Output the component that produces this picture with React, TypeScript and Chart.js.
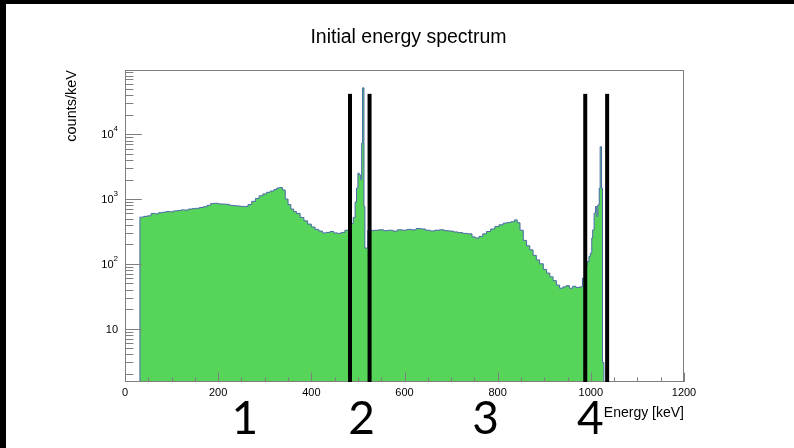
import React, { useEffect, useRef } from 'react';
import { Chart, registerables } from 'chart.js';

Chart.register(...registerables);

// Histogram bin left edges (keV) and counts/keV
const energies = [
  24, 32, 40, 48, 56, 64, 72, 80, 88, 96, 104, 112, 120, 128, 136, 144, 152, 160, 168, 176,
  184, 192, 200, 208, 216, 224, 232, 240, 248, 256, 264, 272, 280, 288, 296, 304, 312, 320,
  326, 332, 338, 344, 350, 356, 362, 368, 376, 384, 392, 400, 408, 416, 424, 432, 440, 448,
  456, 464, 472, 480, 486, 490, 494, 497, 500, 503, 506, 508, 510, 513, 515, 521, 527, 535,
  545, 555, 565, 575, 585, 595, 605, 615, 625, 635, 645, 655, 665, 675, 685, 695, 705, 715,
  725, 735, 745, 752, 760, 768, 776, 785, 794, 803, 812, 820, 828, 836, 842, 848, 855, 862,
  869, 876, 883, 890, 898, 905, 912, 919, 926, 933, 940, 947, 954, 961, 968, 975, 982, 988,
  992, 996, 999, 1002, 1004, 1007, 1010, 1013, 1015, 1018, 1020, 1023, 1025, 1028,
];
const counts = [
  1, 525, 540, 550, 600, 590, 615, 625, 640, 635, 655, 665, 680, 675, 700, 710, 720, 740, 760, 800,
  850, 860, 840, 835, 830, 800, 790, 780, 770, 765, 820, 920, 1020, 1120, 1200, 1270, 1330, 1400,
  1480, 1500, 1380, 1000, 820, 700, 640, 600, 520, 460, 410, 370, 340, 320, 300, 305, 315, 300,
  295, 305, 330, 350, 420, 520, 900, 1470, 2500, 2350, 1980, 7300, 52000, 770, 175, 330, 325, 330,
  335, 325, 330, 320, 335, 330, 340, 335, 350, 345, 330, 322, 330, 335, 325, 320, 310, 303,
  295, 290, 260, 250, 265, 290, 315, 345, 376, 400, 425, 432, 445, 476, 430, 330, 230, 190,
  164, 135, 115, 100, 82, 72, 63, 55, 47, 42, 44, 46, 42, 45, 43, 44, 60, 90,
  108, 130, 146, 250, 334, 605, 766, 537, 812, 1470, 6400, 1470, 3, 1,
];

const chartTitle = 'Initial energy spectrum';
const xTitle = 'Energy [keV]';
const yTitle = 'counts/keV';

const xMajorTicks = [0, 200, 400, 600, 800, 1000, 1200];
const xMinorTicks = [
  50, 100, 150, 250, 300, 350, 450, 500, 550, 650, 700, 750, 850, 900, 950, 1050, 1100, 1150,
];
const yMajorTicks = [10, 100, 1000, 10000];
const yTickBases = ['10', '10', '10', '10'];
const yTickExps = ['', '2', '3', '4'];
const yMinorTicks = [
  2, 3, 4, 5, 6, 7, 8, 9, 20, 30, 40, 50, 60, 70, 80, 90, 200, 300, 400, 500, 600, 700, 800, 900,
  2000, 3000, 4000, 5000, 6000, 7000, 8000, 9000, 20000, 30000, 40000, 50000, 60000, 70000, 80000, 90000,
];

// Hand-drawn region markers (keV) and their top (counts/keV)
const markerEnergies = [483, 525, 988, 1035];
const markerTop = 42000;
const regionLabels = ['1', '2', '3', '4'];
const regionLabelEnergies = [257, 508, 774, 999];

const FONT = '"Liberation Sans", Arial, Helvetica, sans-serif';

const rootStylePlugin = {
  id: 'rootStyle',
  afterDatasetsDraw(chart: any) {
    const { ctx, chartArea: a, scales } = chart;
    const x = scales.x;
    const y = scales.y;
    const W = a.right - a.left;
    const H = a.bottom - a.top;
    ctx.save();

    // frame
    ctx.strokeStyle = '#7f7f7f';
    ctx.lineWidth = 1;
    ctx.strokeRect(a.left + 0.5, a.top + 0.5, W - 1, H - 1);

    // x ticks (inside)
    const xMaj = 0.03 * H;
    const xMin = 0.015 * H;
    ctx.beginPath();
    xMajorTicks.forEach((v) => {
      const px = Math.round(x.getPixelForValue(v)) + 0.5;
      ctx.moveTo(px, a.bottom);
      ctx.lineTo(px, a.bottom - xMaj);
    });
    xMinorTicks.forEach((v) => {
      const px = Math.round(x.getPixelForValue(v)) + 0.5;
      ctx.moveTo(px, a.bottom);
      ctx.lineTo(px, a.bottom - xMin);
    });
    // y ticks (inside)
    const yMaj = 0.03 * W;
    const yMin = 0.015 * W;
    yMajorTicks.forEach((v) => {
      const py = Math.round(y.getPixelForValue(v)) + 0.5;
      ctx.moveTo(a.left, py);
      ctx.lineTo(a.left + yMaj, py);
    });
    yMinorTicks.forEach((v) => {
      const py = Math.round(y.getPixelForValue(v)) + 0.5;
      if (py < a.top || py > a.bottom) return;
      ctx.moveTo(a.left, py);
      ctx.lineTo(a.left + yMin, py);
    });
    ctx.stroke();

    // x tick labels
    ctx.fillStyle = '#000';
    ctx.font = `11px ${FONT}`;
    ctx.textAlign = 'center';
    ctx.textBaseline = 'middle';
    xMajorTicks.forEach((v) => {
      ctx.fillText(String(v), x.getPixelForValue(v), a.bottom + 11);
    });

    // y tick labels with superscript exponents
    const rightEdge = a.left - 7;
    yMajorTicks.forEach((v, i) => {
      const py = y.getPixelForValue(v);
      ctx.font = `8px ${FONT}`;
      const expW = yTickExps[i] ? ctx.measureText(yTickExps[i]).width : 0;
      ctx.textAlign = 'right';
      ctx.textBaseline = 'middle';
      ctx.font = `11px ${FONT}`;
      ctx.fillText(yTickBases[i], rightEdge - expW, py + 1);
      if (yTickExps[i]) {
        ctx.font = `8px ${FONT}`;
        ctx.textAlign = 'left';
        ctx.fillText(yTickExps[i], rightEdge - expW, py - 5);
      }
    });

    // axis titles
    ctx.font = `14px ${FONT}`;
    ctx.textAlign = 'right';
    ctx.textBaseline = 'middle';
    ctx.fillText(xTitle, a.right, a.bottom + 31);

    ctx.save();
    ctx.translate(a.left - 53, a.top);
    ctx.rotate(-Math.PI / 2);
    ctx.textAlign = 'right';
    ctx.textBaseline = 'middle';
    ctx.font = `14.5px ${FONT}`;
    ctx.fillText(yTitle, 0, 0);
    ctx.restore();

    // title
    ctx.font = `19.5px ${FONT}`;
    ctx.textAlign = 'center';
    ctx.textBaseline = 'middle';
    ctx.fillText(chartTitle, (a.left + a.right) / 2 + 4, a.top - 32);

    // region markers
    ctx.fillStyle = '#000';
    const topPx = y.getPixelForValue(markerTop);
    markerEnergies.forEach((e) => {
      const px = x.getPixelForValue(e);
      ctx.fillRect(px - 2, topPx, 4, a.bottom - topPx);
    });

    // region numbers
    ctx.font = `46px Lato, "Open Sans", sans-serif`;
    ctx.textAlign = 'center';
    ctx.textBaseline = 'alphabetic';
    regionLabels.forEach((t, i) => {
      ctx.fillText(t, x.getPixelForValue(regionLabelEnergies[i]), a.bottom + 52);
    });

    ctx.restore();
  },
};

export default function App() {
  const canvasRef = useRef<HTMLCanvasElement | null>(null);

  useEffect(() => {
    if (!canvasRef.current) return;
    const chart = new Chart(canvasRef.current, {
      type: 'line',
      data: {
        datasets: [
          {
            data: energies.map((e, i) => ({ x: e, y: counts[i] })),
            stepped: 'before',
            fill: 'start',
            backgroundColor: '#57d55a',
            borderColor: '#4a6aa8',
            borderWidth: 1,
            pointRadius: 0,
          },
        ],
      },
      options: {
        animation: false,
        responsive: false,
        maintainAspectRatio: false,
        devicePixelRatio: 1,
        layout: { padding: { top: 66, right: 110, bottom: 0, left: 0 } },
        plugins: {
          legend: { display: false },
          title: { display: false },
          tooltip: { enabled: false },
        },
        scales: {
          x: {
            type: 'linear',
            min: 0,
            max: 1200,
            grid: { display: false },
            border: { display: false },
            ticks: { display: false },
            afterFit: (s: any) => {
              s.height = 66;
            },
          },
          y: {
            type: 'logarithmic',
            min: 1.5,
            max: 98000,
            grid: { display: false },
            border: { display: false },
            ticks: { display: false },
            afterFit: (s: any) => {
              s.width = 119;
            },
          },
        },
      },
      plugins: [rootStylePlugin],
    } as any);
    return () => chart.destroy();
  }, []);

  return (
    <div style={{ position: 'fixed', left: 0, top: 0, width: 794, height: 448, background: '#000' }}>
      <div style={{ position: 'absolute', left: 6, top: 4, width: 788, height: 444, background: '#fff' }}>
        <canvas ref={canvasRef} width={788} height={444} style={{ display: 'block', width: 788, height: 444 }} />
      </div>
    </div>
  );
}
